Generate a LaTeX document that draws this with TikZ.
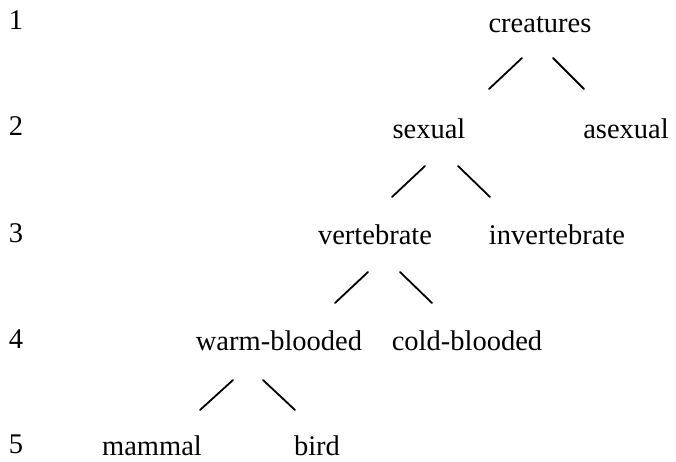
\documentclass[tikz,border=0pt]{standalone}
\usepackage{fontspec}
\setmainfont{Liberation Serif}
\begin{document}
\begin{tikzpicture}[x=1pt,y=-1pt,
  every node/.style={inner sep=0pt,anchor=base,font=\fontsize{28.5}{34}\selectfont},
  level/.style={anchor=base},
  branch/.style={line width=1.8pt,line cap=round}]
\useasboundingbox[fill=white] (0,0) rectangle (676,461);

% level numbers
\node[level] (n1) at (16,29)  {1};
\node[level] (n2) at (16,135) {2};
\node[level] (n3) at (16,242) {3};
\node[level] (n4) at (16,348) {4};
\node[level] (n5) at (16,453) {5};

% taxonomy terms
\node (creatures)    at (540,32)  {creatures};
\node (sexual)       at (429,138) {sexual};
\node (asexual)      at (626,138) {asexual};
\node (vertebrate)   at (375,244) {vertebrate};
\node (invertebrate) at (557,244) {invertebrate};
\node (warm)         at (279,350) {warm-blooded};
\node (cold)         at (467,350) {cold-blooded};
\node (mammal)       at (152,455) {mammal};
\node (bird)         at (317,455) {bird};

% branch strokes below each parent
\draw[branch] ([shift={(-18,26)}]creatures.base) -- ++(-33,31);
\draw[branch] ([shift={(13,26)}]creatures.base)  -- ++(31,31);
\draw[branch] ([shift={(-4,28)}]sexual.base)     -- ++(-33,31);
\draw[branch] ([shift={(29,28)}]sexual.base)     -- ++(32,31);
\draw[branch] ([shift={(-7,28)}]vertebrate.base) -- ++(-33,31);
\draw[branch] ([shift={(25,28)}]vertebrate.base) -- ++(32,31);
\draw[branch] ([shift={(-46,30)}]warm.base)      -- ++(-33,30);
\draw[branch] ([shift={(-16,30)}]warm.base)      -- ++(32,30);
\end{tikzpicture}
\end{document}
